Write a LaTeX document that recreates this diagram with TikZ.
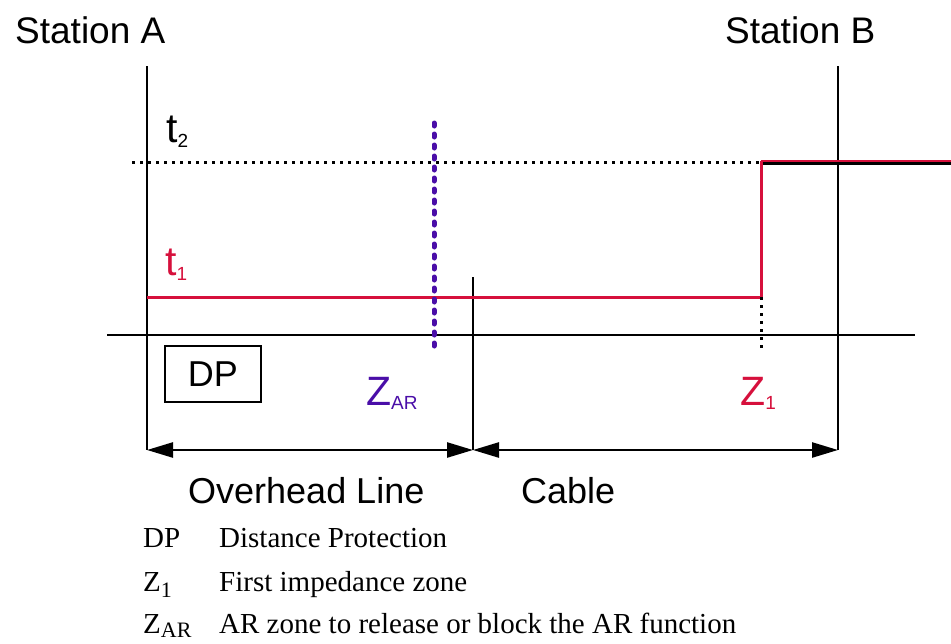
\documentclass[tikz,border=0pt]{standalone}
\usepackage{fontspec}
\setmainfont{Liberation Sans}
\newfontfamily\serifleg{Liberation Serif}
\usetikzlibrary{arrows.meta}
\definecolor{zred}{RGB}{214,16,60}
\definecolor{zpurple}{RGB}{74,14,168}
\tikzset{
  blk/.style={line width=2.5pt, black},
  redl/.style={line width=3pt, zred},
  dotblk/.style={line width=3pt, black, dash pattern=on 3pt off 5pt},
  dotpur/.style={line width=5pt, zpurple, line cap=round, dash pattern=on 3pt off 8pt},
  dimarrow/.style={line width=2.5pt, black, {Triangle[length=26pt,width=15pt]}-{Triangle[length=26pt,width=15pt]}},
  bigtxt/.style={inner sep=0pt, anchor=base west, font=\fontsize{37}{40}\selectfont},
  ttxt/.style={inner sep=0pt, anchor=base west, font=\fontsize{41}{44}\selectfont},
  midtxt/.style={inner sep=0pt, anchor=base west, font=\fontsize{36}{39}\selectfont},
  legtxt/.style={inner sep=0pt, anchor=base west, font=\serifleg\fontsize{29}{32}\selectfont},
}
\newcommand{\smallsub}[2]{\raisebox{-#1pt}{\fontsize{19}{20}\selectfont #2}}
\newcommand{\legsub}[1]{\raisebox{-6pt}{\fontsize{22}{23}\selectfont #1}}
\begin{document}
\begin{tikzpicture}[x=1pt,y=-1pt]
\useasboundingbox (0,0) rectangle (951,643);
% coordinates
\coordinate (atop) at (147,66);
\coordinate (abot) at (147,450);
\coordinate (btop) at (838,66);
\coordinate (bbot) at (838,450);
\coordinate (ctop) at (473,277);
\coordinate (cbot) at (473,450);
\coordinate (axl) at (107,335);
\coordinate (axr) at (915,335);
\coordinate (t2l) at (132,162);
\coordinate (step2) at (761,162);
\coordinate (step1) at (761,297);
\coordinate (t1l) at (147,297);
\coordinate (t2r) at (951,162);
\coordinate (z1dot) at (761,352);
\coordinate (zart) at (434,123);
\coordinate (zarb) at (434,347);

% station lines
\draw[blk] (atop) -- (abot);
\draw[blk] (btop) -- (bbot);
\draw[blk] (ctop) -- (cbot);
% axis
\draw[blk] (axl) -- (axr);
% t2 dotted line
\draw[dotblk] (t2l) -- (step2);
% upper line right of step
\draw[line width=3pt, black] ([yshift=-1pt]step2) -- ([yshift=-1pt]t2r);
\draw[line width=1.5pt, zred] ([yshift=1pt]step2) -- ([yshift=1pt]t2r);
% red step
\draw[redl] (t1l) -- (step1) -- ([yshift=1.5pt]step2);
% dotted Z1 drop
\draw[dotblk] (step1) -- (z1dot);
% purple ZAR dotted line
\draw[dotpur] (zart) -- (zarb);

% DP box
\node[draw, line width=2.5pt, minimum width=96pt, minimum height=56pt, inner sep=0pt,
      font=\fontsize{36}{38}\selectfont] (dp) at (213,374) {DP};

% dimension arrows
\draw[dimarrow] (abot) -- (cbot);
\draw[dimarrow] (cbot) -- (bbot);

% texts
\node[bigtxt] (sa) at (15,43) {Station A};
\node[bigtxt] (sb) at (725,43) {Station B};
\node[midtxt] (ohl) at (188,503) {Overhead Line};
\node[midtxt] (cab) at (521,503) {Cable};
\node[ttxt] (t2) at (166,142) {t\smallsub{5}{2}};
\node[ttxt, text=zred] (t1) at (165,275) {t\smallsub{5}{1}};
\node[ttxt, text=zpurple] (zar) at (366,405) {Z\smallsub{4}{AR}};
\node[ttxt, text=zred] (z1) at (740,405) {Z\smallsub{4}{1}};

% legend
\node[legtxt] (l1a) at (143,547) {DP};
\node[legtxt] (l1b) at (219,547) {Distance Protection};
\node[legtxt] (l2a) at (143,591) {Z\legsub{1}};
\node[legtxt] (l2b) at (219,591) {First impedance zone};
\node[legtxt] (l3a) at (143,633) {Z\raisebox{-4pt}{\fontsize{22}{23}\selectfont AR}};
\node[legtxt] (l3b) at (219,633) {AR zone to release or block the AR function};
\end{tikzpicture}
\end{document}
